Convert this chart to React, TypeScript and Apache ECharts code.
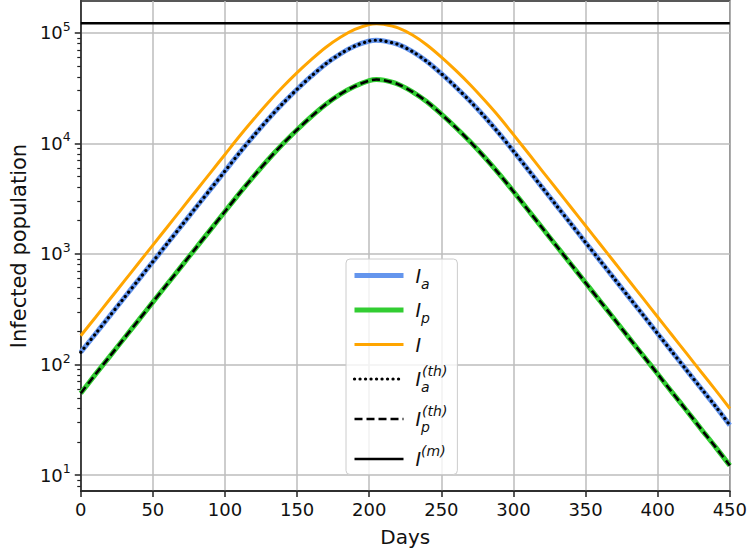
import React, { useEffect, useRef } from 'react';
import * as echarts from 'echarts';

// Days sampled along the curves
const days = [0, 10, 20, 30, 40, 50, 60, 70, 80, 90, 100, 110, 120, 130, 140, 150, 160, 170, 180, 190, 200, 205,
  210, 220, 230, 240, 250, 260, 270, 280, 290, 300, 310, 320, 330, 340, 350, 360, 370, 380, 390, 400, 410, 420, 430, 440, 450];

// I (total infected)
const Itot = [182, 265, 387, 565, 824, 1202, 1754, 2559, 3733, 5445, 7943, 11590, 16600, 23440, 32360, 43650, 57540, 74130, 91200, 107200, 119000, 121000,
  119500, 110900, 95500, 77600, 60300, 45700, 33900, 24500, 17400, 12000, 8220, 5620, 3850, 2630, 1800, 1230, 841, 575, 394, 269, 184, 126, 86, 59, 40];

// I_a
const Ia = [129, 188, 274, 400, 583, 851, 1242, 1812, 2643, 3855, 5624, 8204, 11750, 16600, 22900, 30900, 40700, 52500, 64600, 75900, 84300, 85700,
  84600, 78500, 67600, 55000, 42700, 32400, 24000, 17400, 12300, 8500, 5820, 3980, 2720, 1860, 1270, 871, 595, 407, 279, 190, 130, 89, 61, 42, 28.3];

// I_p
const Ip = [55, 81, 118, 172, 251, 367, 535, 780, 1139, 1661, 2423, 3534, 5060, 7150, 9870, 13300, 17550, 22600, 27900, 32900, 37000, 37800,
  37300, 34300, 29300, 23800, 18400, 13940, 10340, 7490, 5300, 3670, 2510, 1715, 1173, 802, 549, 375, 257, 175, 120, 82, 56, 38.4, 26.2, 18, 12.2];

// Theoretical curves (overlay the simulated ones)
const IaTh = [...Ia];
const IpTh = [...Ip];

// I^(m) horizontal level
const Imax = 122000;

const yMajor = [10, 100, 1000, 10000, 100000];
const yMinor = [8, 9, 20, 30, 40, 50, 60, 70, 80, 90, 200, 300, 400, 500, 600, 700, 800, 900,
  2000, 3000, 4000, 5000, 6000, 7000, 8000, 9000, 20000, 30000, 40000, 50000, 60000, 70000, 80000, 90000];

const legendLabels: Record<string, string> = {
  Ia: '{m|I}{sub|a}',
  Ip: '{m|I}{sub|p}',
  I: '{m|I}',
  IaTh: '{m|I}{subz|a}{sup|(th)}',
  IpTh: '{m|I}{subz|p}{sup|(th)}',
  Im: '{m|I}{sup|(m)}',
};

const FONT = 'DejaVu Sans';
const TXT = '#111';

export default function App() {
  const ref = useRef<HTMLDivElement>(null);
  useEffect(() => {
    const chart = echarts.init(ref.current!, null, { renderer: 'svg' });
    const pair = (arr: number[]) => days.map((d, i) => [d, arr[i]]);
    const yMin = 7.18;
    const yMax = 194000;
    chart.setOption({
      animation: false,
      backgroundColor: '#fff',
      grid: { left: 75, right: 17, top: 1, bottom: 59, show: true, borderColor: '#222', borderWidth: 1.5, backgroundColor: 'transparent' },
      xAxis: {
        type: 'value', min: 0, max: 450, interval: 50,
        name: 'Days', nameLocation: 'middle', nameGap: 36,
        nameTextStyle: { fontFamily: FONT, fontSize: 20, color: TXT },
        axisLine: { lineStyle: { color: '#222', width: 1.5 } },
        axisTick: { show: true, length: 6, lineStyle: { color: '#222', width: 1.5 } },
        axisLabel: { fontFamily: FONT, fontSize: 18, color: TXT, margin: 9 },
        splitLine: { show: true, lineStyle: { color: '#bdbdbd', width: 1.5 } },
      },
      yAxis: [
        {
          type: 'log', logBase: 10, min: yMin, max: yMax,
          name: 'Infected population', nameLocation: 'middle', nameGap: 51,
          nameTextStyle: { fontFamily: FONT, fontSize: 21, color: TXT },
          axisLine: { show: true, lineStyle: { color: '#222', width: 1.5 } },
          axisTick: { show: true, customValues: yMajor, length: 6, lineStyle: { color: '#222', width: 1.5 } },
          axisLabel: {
            customValues: yMajor, margin: 10,
            formatter: (v: number) => `{b|10}{s|${Math.round(Math.log10(v))}}`,
            rich: {
              b: { fontFamily: FONT, fontSize: 18, color: TXT, lineHeight: 26 },
              s: { fontFamily: FONT, fontSize: 12.5, color: TXT, lineHeight: 14, verticalAlign: 'top' },
            },
          },
          splitLine: { show: true, lineStyle: { color: '#bdbdbd', width: 1.5 } },
        },
        {
          type: 'log', logBase: 10, min: yMin, max: yMax, position: 'left',
          axisLine: { show: false },
          axisLabel: { show: false },
          splitLine: { show: false },
          axisTick: { show: true, customValues: yMinor, length: 3.5, lineStyle: { color: '#222', width: 1.2 } },
        },
      ],
      legend: {
        orient: 'vertical', left: 346, top: 259,
        padding: [7, 10, 6, 6], itemGap: 10, itemWidth: 49, itemHeight: 14,
        backgroundColor: 'rgba(255,255,255,0.8)', borderColor: '#cccccc', borderWidth: 1, borderRadius: 4,
        itemStyle: { opacity: 0 },
        lineStyle: { width: 'inherit' },
        data: ['Ia', 'Ip', 'I', 'IaTh', 'IpTh', 'Im'],
        formatter: (name: string) => legendLabels[name],
        textStyle: {
          rich: {
            m: { fontFamily: FONT, fontStyle: 'italic', fontSize: 19, lineHeight: 30, color: TXT, padding: [0, 0, 0, 7] },
            sub: { fontFamily: FONT, fontStyle: 'italic', fontSize: 14, lineHeight: 13, color: TXT, verticalAlign: 'bottom' },
            subz: { fontFamily: FONT, fontStyle: 'italic', fontSize: 14, lineHeight: 13, color: TXT, verticalAlign: 'bottom', width: 1 },
            sup: { fontFamily: FONT, fontStyle: 'italic', fontSize: 14, lineHeight: 13, color: TXT, verticalAlign: 'top' },
          },
        },
      },
      series: [
        { name: 'Ia', type: 'line', data: pair(Ia), symbol: 'none', smooth: 0.3, color: '#6495ED', lineStyle: { color: '#6495ED', width: 5 } },
        { name: 'Ip', type: 'line', data: pair(Ip), symbol: 'none', smooth: 0.3, color: '#32CD32', lineStyle: { color: '#32CD32', width: 5 } },
        { name: 'I', type: 'line', data: pair(Itot), symbol: 'none', smooth: 0.3, color: '#FFA500', lineStyle: { color: '#FFA500', width: 3 } },
        { name: 'IaTh', type: 'line', data: pair(IaTh), symbol: 'none', smooth: 0.3, color: '#000', lineStyle: { color: '#000', width: 3.2, type: [0.1, 5.4], cap: 'round' } },
        { name: 'IpTh', type: 'line', data: pair(IpTh), symbol: 'none', smooth: 0.3, color: '#000', lineStyle: { color: '#000', width: 2.6, type: [8, 4] } },
        { name: 'Im', type: 'line', data: [[0, Imax], [450, Imax]], symbol: 'none', color: '#000', lineStyle: { color: '#000', width: 2.5 } },
      ],
    });
    return () => chart.dispose();
  }, []);
  return <div ref={ref} style={{ position: 'fixed', left: 0, top: 0, width: 750, height: 552 }} />;
}
